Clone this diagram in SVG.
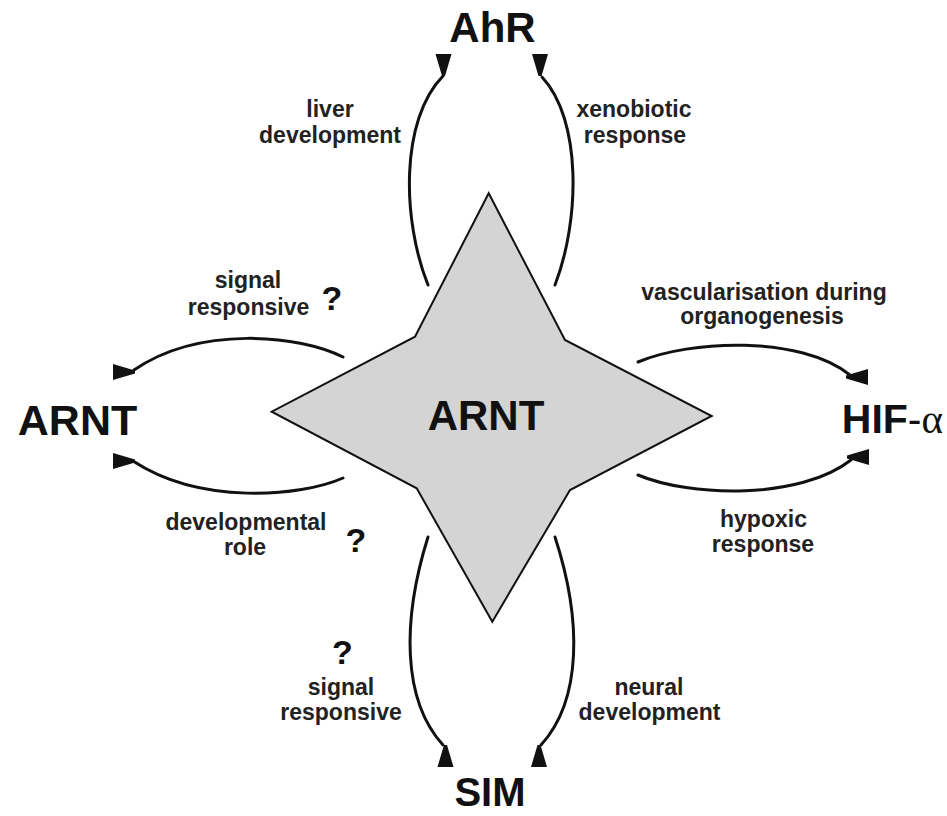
<svg xmlns="http://www.w3.org/2000/svg" width="947" height="816" viewBox="0 0 947 816">
<style>
.node{font-family:"Liberation Sans",Arial,sans-serif;font-weight:bold;fill:#111;text-anchor:middle}
.end{text-anchor:end}
.lbl{font-family:"Liberation Sans",Arial,sans-serif;font-weight:bold;font-size:23px;fill:#222;text-anchor:middle}
.q{font-family:"Liberation Sans",Arial,sans-serif;font-weight:bold;font-size:34px;fill:#111;text-anchor:middle}
.arc{fill:none;stroke:#111;stroke-width:3;stroke-linecap:round}
.head{fill:#111}
</style>
<defs>
<path id="wedge" d="M-8,0 L8,0 L1.5,22 L-1.5,22 Z"/>
</defs>
<rect width="947" height="816" fill="#fff"/>
<g id="star">
<polygon points="488.7,193.3 565,340 711.7,416 570,490 492.3,621.7 416.7,488.3 271.7,411.7 415,336.7" fill="#d4d4d4" stroke="#111" stroke-width="2"/>
<text class="node" x="486" y="430" font-size="42">ARNT</text>
</g>
<g id="ahr"><text class="node" x="492.5" y="42" font-size="42">AhR</text></g>
<g id="arnt-left"><text class="node" x="77.5" y="435" font-size="43">ARNT</text></g>
<g id="hif"><text class="node end" x="943" y="433" font-size="41">HIF<tspan font-weight="normal">-</tspan><tspan font-family="'Liberation Serif',serif" font-weight="normal">α</tspan></text></g>
<g id="sim"><text class="node" x="490" y="806" font-size="40">SIM</text></g>
<g id="connectors">
<path class="arc" d="M428,285 C402,220 400,120 443,76"/>
<path class="arc" d="M555,285 C580,220 582,120 542,77"/>
<path class="arc" d="M343,357 C300,335 200,325 134,370"/>
<path class="arc" d="M343,478 C300,497 200,505 133,461"/>
<path class="arc" d="M638,362 C690,340 800,335 850,375"/>
<path class="arc" d="M638,475 C690,497 800,500 851,460"/>
<path class="arc" d="M428,537 C402,620 402,700 443,745"/>
<path class="arc" d="M555,537 C582,620 582,700 541,745"/>
<use href="#wedge" class="head" transform="translate(443.5,54)"/>
<use href="#wedge" class="head" transform="translate(540,54)"/>
<use href="#wedge" class="head" transform="translate(113,372) rotate(-90)"/>
<use href="#wedge" class="head" transform="translate(113,461) rotate(-90)"/>
<use href="#wedge" class="head" transform="translate(868,377) rotate(90)"/>
<use href="#wedge" class="head" transform="translate(869,457) rotate(90)"/>
<use href="#wedge" class="head" transform="translate(445.5,767) rotate(180)"/>
<use href="#wedge" class="head" transform="translate(539,767) rotate(180)"/>
</g>
<g id="labels">
<text class="lbl" x="330" y="117">liver</text>
<text class="lbl" x="330" y="143">development</text>
<text class="lbl" x="634" y="117">xenobiotic</text>
<text class="lbl" x="635" y="143">response</text>
<text class="lbl" x="248" y="288">signal</text>
<text class="lbl" x="248.5" y="315">responsive</text>
<text class="q" x="332" y="310">?</text>
<text class="lbl" x="764" y="300">vascularisation during</text>
<text class="lbl" x="762" y="324">organogenesis</text>
<text class="lbl" x="246" y="530">developmental</text>
<text class="lbl" x="245" y="555">role</text>
<text class="q" x="356" y="552">?</text>
<text class="lbl" x="763.5" y="527">hypoxic</text>
<text class="lbl" x="763" y="552">response</text>
<text class="q" x="342.5" y="664">?</text>
<text class="lbl" x="341" y="695">signal</text>
<text class="lbl" x="341" y="720">responsive</text>
<text class="lbl" x="649" y="695">neural</text>
<text class="lbl" x="649.5" y="720">development</text>
</g>
</svg>
